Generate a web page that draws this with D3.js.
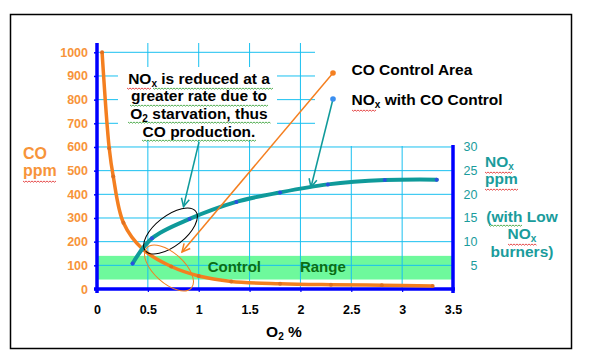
<!DOCTYPE html>
<html><head><meta charset="utf-8">
<script src="https://cdn.jsdelivr.net/npm/d3@7"></script>
<style>
html,body{margin:0;padding:0;background:#fff;}
svg{display:block;font-family:"Liberation Sans",Arial,sans-serif;}
</style></head>
<body><svg id="chart" width="599" height="361"></svg>
<script>
// ---- data ----
const o2CO   = [0.05, 0.12, 0.16, 0.26, 0.45, 0.73, 1.0, 1.32, 1.8, 2.3, 2.8, 3.3];
const coPpm  = [1000, 595, 475, 280, 168, 95, 55, 32, 22, 18, 16, 13];
const o2NOx  = [0.35, 0.54, 0.91, 1.37, 1.80, 2.27, 2.83, 3.34];
const noxPpm = [5.4, 10.7, 14.8, 18.4, 20.4, 22.1, 23.0, 23.1];
const xTicks   = [0, 0.5, 1, 1.5, 2, 2.5, 3, 3.5];
const coTicks  = [0, 100, 200, 300, 400, 500, 600, 700, 800, 900, 1000];
const noxTicks = [5, 10, 15, 20, 25, 30];
const controlRange = [40, 140];

const svg = d3.select("#chart");
const C_OR = "#f47f20", C_ORT = "#f7943a", C_TEAL = "#0f9a9a", C_TEALT = "#1a9c9c";
const C_BLUE = "#0000ff", C_GRID = "#19c0f0";

const x = d3.scaleLinear().domain([0, 3.5]).range([97, 453]);
const yCO = d3.scaleLinear().domain([0, 1000]).range([289, 52.3]);
const yNOx = d3.scaleLinear().domain([0, 30]).range([289, yCO(600)]);
const plotTop = 43;

// frame
svg.append("rect").attr("x", 10.5).attr("y", 14.5).attr("width", 561).attr("height", 334)
  .attr("fill", "none").attr("stroke", "#000").attr("stroke-width", 1.5);

// control range band
svg.append("rect").attr("x", x(0)).attr("width", x(3.5) - x(0))
  .attr("y", yCO(controlRange[1])).attr("height", yCO(controlRange[0]) - yCO(controlRange[1]))
  .attr("fill", "#6ef99c");

// grid
const grid = svg.append("g").attr("stroke", C_GRID).attr("stroke-width", 1);
coTicks.filter(d => d > 0).forEach(d => grid.append("line")
  .attr("x1", x(0)).attr("x2", x(3.5)).attr("y1", yCO(d)).attr("y2", yCO(d)));
xTicks.filter(d => d > 0 && d < 3.5).forEach(d => grid.append("line")
  .attr("x1", x(d)).attr("x2", x(d)).attr("y1", plotTop).attr("y2", yCO(0)));

// white annotation boxes
svg.append("rect").attr("x", 118).attr("y", 67).attr("width", 159).attr("height", 73).attr("fill", "#fff");
svg.append("rect").attr("x", 315).attr("y", 40).attr("width", 200).attr("height", 106).attr("fill", "#fff");

// band text
svg.append("text").attr("x", x(1.35)).attr("y", 272).attr("text-anchor", "middle")
  .attr("font-size", 15).attr("font-weight", "bold").attr("fill", "#0a6e14").text("Control");
svg.append("text").attr("x", x(2.22)).attr("y", 272).attr("text-anchor", "middle")
  .attr("font-size", 15).attr("font-weight", "bold").attr("fill", "#0a6e14").text("Range");

// axes
const axL = svg.append("g").attr("transform", `translate(${x(0)},0)`)
  .call(d3.axisLeft(yCO).tickValues(coTicks).tickSize(3).tickPadding(6).tickFormat(d3.format("d")));
axL.select(".domain").remove();
axL.selectAll("line").attr("stroke", C_BLUE).attr("stroke-width", 1.5);
axL.selectAll("text").attr("fill", C_ORT).attr("font-size", 12.5).attr("font-weight", "bold")
  .attr("font-family", "Liberation Sans, Arial, sans-serif");

const axR = svg.append("g").attr("transform", `translate(${x(3.5)},0)`)
  .call(d3.axisRight(yNOx).tickValues(noxTicks).tickSize(0).tickPadding(6));
axR.select(".domain").remove();
axR.selectAll("text").attr("fill", C_TEALT).attr("font-size", 12.5)
  .attr("text-anchor", "end").attr("x", 24.5)
  .attr("font-family", "Liberation Sans, Arial, sans-serif");

const axB = svg.append("g").attr("transform", `translate(0,${yCO(0)})`)
  .call(d3.axisBottom(x).tickValues(xTicks).tickSize(3).tickFormat(d3.format("")));
axB.select(".domain").remove();
axB.selectAll("line").attr("stroke", C_BLUE).attr("stroke-width", 1.2);
axB.selectAll("text").attr("fill", "#000").attr("font-size", 12.5).attr("font-weight", "bold")
  .attr("y", 25).attr("dy", 0).attr("font-family", "Liberation Sans, Arial, sans-serif");

// axis lines
svg.append("line").attr("x1", x(0)).attr("x2", x(0)).attr("y1", plotTop).attr("y2", yCO(0) + 4)
  .attr("stroke", C_BLUE).attr("stroke-width", 3.5);
svg.append("line").attr("x1", x(0) - 3).attr("x2", x(3.5) + 2).attr("y1", yCO(0)).attr("y2", yCO(0))
  .attr("stroke", C_BLUE).attr("stroke-width", 3.5);
svg.append("line").attr("x1", x(3.5)).attr("x2", x(3.5)).attr("y1", yNOx(30) - 2).attr("y2", yCO(0) + 4)
  .attr("stroke", C_BLUE).attr("stroke-width", 3.5);

// curves
const coData = o2CO.map((d, i) => [d, coPpm[i]]);
const noxData = o2NOx.map((d, i) => [d, noxPpm[i]]);
const lineCO = d3.line().x(d => x(d[0])).y(d => yCO(d[1])).curve(d3.curveCatmullRom.alpha(0.5));
const lineNOx = d3.line().x(d => x(d[0])).y(d => yNOx(d[1])).curve(d3.curveCatmullRom.alpha(0.5));
svg.append("path").attr("d", lineCO(coData)).attr("fill", "none").attr("stroke", C_OR).attr("stroke-width", 3.5);
svg.selectAll(".coPt").data(coData).enter().append("circle")
  .attr("cx", d => x(d[0])).attr("cy", d => yCO(d[1])).attr("r", 2).attr("fill", "#e07020");
svg.append("path").attr("d", lineNOx(noxData)).attr("fill", "none").attr("stroke", C_TEAL).attr("stroke-width", 4)
  .attr("stroke-linecap", "round");
svg.selectAll(".nxPt").data(noxData).enter().append("circle")
  .attr("cx", d => x(d[0])).attr("cy", d => yNOx(d[1])).attr("r", 2).attr("fill", "#2a50e0");

// ellipses
svg.append("ellipse").attr("cx", 0).attr("cy", 0).attr("rx", 32).attr("ry", 15)
  .attr("transform", "translate(170.5,231) rotate(-38)")
  .attr("fill", "none").attr("stroke", "#000").attr("stroke-width", 1);
svg.append("ellipse").attr("cx", 0).attr("cy", 0).attr("rx", 30).attr("ry", 15)
  .attr("transform", "translate(169,268) rotate(42)")
  .attr("fill", "none").attr("stroke", C_OR).attr("stroke-width", 1);

// arrow markers
const defs = svg.append("defs");
function mk(id, col) {
  defs.append("marker").attr("id", id).attr("viewBox", "-10 -6 12 12").attr("refX", 0).attr("refY", 0)
    .attr("markerWidth", 12).attr("markerHeight", 12).attr("markerUnits", "userSpaceOnUse")
    .attr("orient", "auto")
    .append("path").attr("d", "M-8,-4 L0,0 L-8,4").attr("fill", "none").attr("stroke", col).attr("stroke-width", 1.5);
}
mk("arO", C_OR); mk("arT", C_TEAL);
svg.append("line").attr("x1", 333).attr("y1", 73).attr("x2", 182).attr("y2", 252)
  .attr("stroke", C_OR).attr("stroke-width", 1.5).attr("marker-end", "url(#arO)");
svg.append("line").attr("x1", 333).attr("y1", 99).attr("x2", 311).attr("y2", 187)
  .attr("stroke", C_TEAL).attr("stroke-width", 1.5).attr("marker-end", "url(#arT)");
svg.append("line").attr("x1", 199).attr("y1", 142).attr("x2", 183.5).attr("y2", 206.5)
  .attr("stroke", C_TEAL).attr("stroke-width", 1.5).attr("marker-end", "url(#arT)");
svg.append("circle").attr("cx", 333).attr("cy", 73).attr("r", 2.8).attr("fill", C_OR);
svg.append("circle").attr("cx", 333).attr("cy", 99).attr("r", 2.8).attr("fill", "#3a8ef0");

// squiggle helper (spell-check underlines)
function squig(x1, x2, y, col) {
  let d = `M${x1},${y}`;
  for (let xx = x1, k = 0; xx < x2; xx += 1.5, k++) d += ` L${xx + 1.5},${y + (k % 2 ? 0 : 1.2)}`;
  svg.append("path").attr("d", d).attr("fill", "none").attr("stroke", col).attr("stroke-width", 0.8);
}

// rich text helper: parts [[text, sub?]]
function rich(g, xx, yy, parts, opts) {
  const t = g.append("text").attr("x", xx).attr("y", yy).attr("font-size", opts.size)
    .attr("font-weight", "bold").attr("fill", opts.fill).attr("text-anchor", opts.anchor || "start");
  let shift = 0;
  parts.forEach(p => {
    const ts = t.append("tspan").text(p[0]);
    if (p[1]) { ts.attr("font-size", opts.size * 0.65).attr("dy", opts.size * 0.2); shift = opts.size * 0.2; }
    else if (shift) { ts.attr("dy", -shift); shift = 0; }
  });
  return t;
}

// annotation text box
const bx = 199, fs = 15.5;
rich(svg, bx, 83.5, [["NO"], ["x", 1], [" is reduced at a"]], {size: fs, fill: "#000", anchor: "middle"});
rich(svg, bx, 101, [["greater rate due to"]], {size: fs, fill: "#000", anchor: "middle"});
rich(svg, bx, 118.5, [["O"], ["2", 1], [" starvation, thus"]], {size: fs, fill: "#000", anchor: "middle"});
rich(svg, bx, 136.5, [["CO production."]], {size: fs, fill: "#000", anchor: "middle"});
squig(127, 151, 88, "#e02020"); squig(153, 272, 88, "#2a9a2a");
squig(130, 268, 105, "#2a9a2a"); squig(128, 270, 122, "#2a9a2a"); squig(142, 256, 140, "#2a9a2a");

// legend text
rich(svg, 351.5, 75, [["CO Control Area"]], {size: 15.5, fill: "#000"});
rich(svg, 351.5, 105, [["NO"], ["x", 1], [" with CO Control"]], {size: 15.5, fill: "#000"});
squig(352, 376, 110, "#e02020");

// left axis title
rich(svg, 23, 159, [["CO"]], {size: 16, fill: C_ORT});
rich(svg, 23, 176, [["ppm"]], {size: 16, fill: C_ORT});
squig(23, 56, 181, "#e02020");

// right axis title
rich(svg, 485, 166.5, [["NO"], ["x", 1]], {size: 15.5, fill: C_TEALT});
squig(485, 511, 172, "#e02020");
rich(svg, 485, 184, [["ppm"]], {size: 15.5, fill: C_TEALT});
squig(485, 518, 189, "#e02020");
rich(svg, 522, 221.5, [["(with Low"]], {size: 15.5, fill: C_TEALT, anchor: "middle"});
squig(489, 521, 225, "#2a9a2a");
rich(svg, 522, 238.5, [["NO"], ["x", 1]], {size: 15.5, fill: C_TEALT, anchor: "middle"});
squig(508, 536, 244, "#e02020");
rich(svg, 522, 257, [["burners)"]], {size: 15.5, fill: C_TEALT, anchor: "middle"});

// x axis title
rich(svg, 284, 337, [["O"], ["2", 1], [" %"]], {size: 15.5, fill: "#000", anchor: "middle"});
</script></body></html>
